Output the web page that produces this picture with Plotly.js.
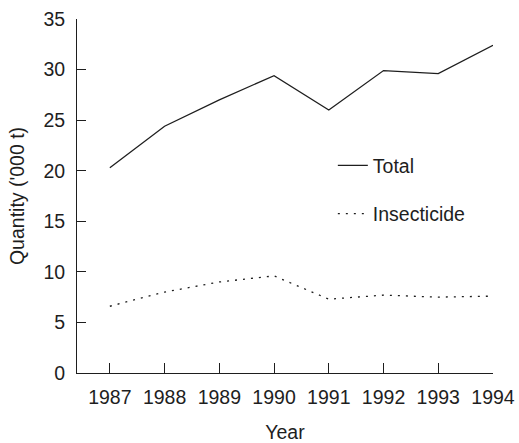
<!DOCTYPE html>
<html>
<head>
<meta charset="utf-8">
<script src="https://cdn.plot.ly/plotly-3.0.1.min.js"></script>
<style>
  html, body { margin: 0; padding: 0; background: #fff; }
  #graph { width: 519px; height: 443px; }
</style>
</head>
<body>
<div id="graph"></div>
<script>
// Data
const years = [1987, 1988, 1989, 1990, 1991, 1992, 1993, 1994];
const total = [20.3, 24.4, 27.0, 29.4, 26.0, 29.9, 29.6, 32.4];
const insecticide = [6.6, 8.0, 9.0, 9.6, 7.3, 7.7, 7.5, 7.6];
const yTicks = [0, 5, 10, 15, 20, 25, 30, 35];

const ink = '#1e1e1e';
const font = {family: 'Liberation Sans, Arial, sans-serif', size: 19.5, color: ink};

const traces = [
    {
        x: years, y: total, name: 'Total', legendgroup: 'a',
        type: 'scatter', mode: 'lines',
        line: {color: ink, width: 1.3}
    },
    {
        x: years, y: insecticide, name: 'Insecticide', legendgroup: 'b',
        type: 'scatter', mode: 'lines',
        line: {color: ink, width: 1.3, dash: '2px,6px'}
    }
];

const layout = {
    width: 519,
    height: 443,
    margin: {l: 77, r: 26, t: 19, b: 70},
    paper_bgcolor: '#fff',
    plot_bgcolor: '#fff',
    font: font,
    showlegend: true,
    legend: {
        x: 0.615, y: 0.518, xanchor: 'left', yanchor: 'middle',
        bgcolor: 'rgba(0,0,0,0)', font: font,
        traceorder: 'grouped', tracegroupgap: 20
    },
    xaxis: {
        range: [1986.4, 1994],
        tickvals: years,
        ticktext: years.map(String),
        ticks: 'inside', ticklen: 10, tickcolor: ink, tickwidth: 1,
        showline: true, linecolor: ink, linewidth: 1,
        showgrid: false, zeroline: false,
        ticklabelstandoff: 7,
        title: {text: 'Year', font: font, standoff: 20}
    },
    yaxis: {
        range: [0, 35],
        tickvals: yTicks,
        ticks: 'inside', ticklen: 9, tickcolor: ink, tickwidth: 1,
        showline: true, linecolor: ink, linewidth: 1,
        showgrid: false, zeroline: false,
        ticklabelstandoff: 7,
        title: {text: "Quantity ('000 t)", font: font, standoff: 13}
    }
};

Plotly.newPlot('graph', traces, layout, {staticPlot: true, displayModeBar: false});
</script>
</body>
</html>
